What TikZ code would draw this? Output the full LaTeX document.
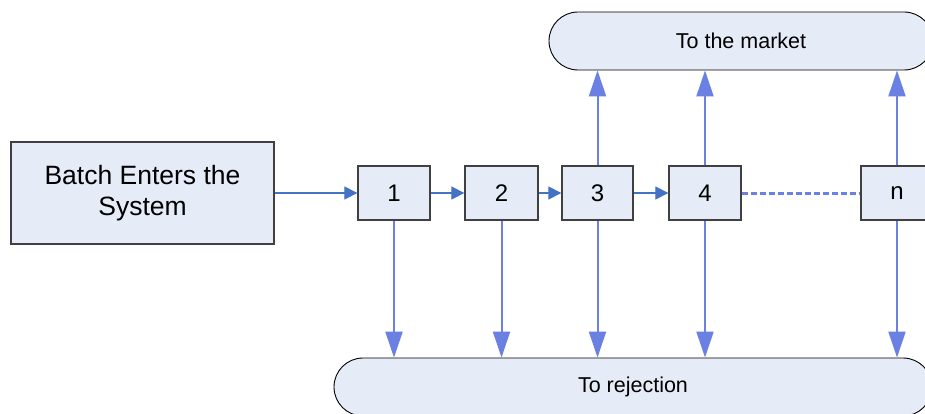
\documentclass[tikz,border=0pt]{standalone}
\usepackage{fontspec}
\setmainfont{Liberation Sans}
\usetikzlibrary{arrows.meta}
\definecolor{boxfill}{RGB}{230,236,247}
\definecolor{boxline}{RGB}{64,64,64}
\definecolor{flowblue}{RGB}{68,114,196}
\definecolor{routeblue}{RGB}{106,128,226}
\tikzset{
  stagebox/.style={draw=boxline, line width=1.3pt, fill=boxfill, minimum height=54pt,
    inner sep=0pt, font=\fontsize{24}{28}\selectfont},
  sinkbox/.style={draw=black, line width=0.9pt, fill=boxfill, rounded corners=29pt,
    minimum height=58pt, inner sep=0pt, font=\fontsize{21.5}{25}\selectfont},
  flow/.style={draw=flowblue, line width=1.2pt, -{Triangle[length=13pt,width=13pt]}},
  route/.style={draw=routeblue, line width=2pt, -{Triangle[length=26pt,width=17pt]}},
  gap/.style={draw=routeblue, line width=3pt, dash pattern=on 6pt off 3pt}
}
\begin{document}
\begin{tikzpicture}[x=1pt, y=-1pt]
  \clip (0,0) rectangle (925,414);
  \fill[white] (0,0) rectangle (925,414);

  % source and outlets
  \node[stagebox, minimum width=263pt, minimum height=102pt, align=center,
        font=\fontsize{26.5}{31}\selectfont] (batch) at (142.5,193) {Batch Enters the\\System};
  \node[sinkbox, minimum width=384pt] (market) at (741,41) {To the market};
  \node[sinkbox, minimum width=598pt] (reject) at (633,387) {To rejection};

  % inspection stages
  \node[stagebox, minimum width=72pt] (s1) at (394,193) {1};
  \node[stagebox, minimum width=73pt] (s2) at (501.5,193) {2};
  \node[stagebox, minimum width=71pt] (s3) at (597.5,193) {3};
  \node[stagebox, minimum width=72pt] (s4) at (705,193) {4};
  \node[stagebox, minimum width=72pt] (sn) at (897,193) {n};

  % flow through the stages
  \draw[flow] (batch.east) -- (s1.west);
  \draw[flow] (s1.east) -- (s2.west);
  \draw[flow] (s2.east) -- (s3.west);
  \draw[flow] (s3.east) -- (s4.west);
  \draw[gap] (s4.east) -- (sn.west);

  % accepted batches
  \foreach \s in {s3,s4,sn}
    \draw[route] (\s.north) -- (\s.north |- market.south);

  % rejected batches
  \foreach \s in {s1,s2,s3,s4,sn}
    \draw[route] (\s.south) -- (\s.south |- reject.north);
\end{tikzpicture}
\end{document}
